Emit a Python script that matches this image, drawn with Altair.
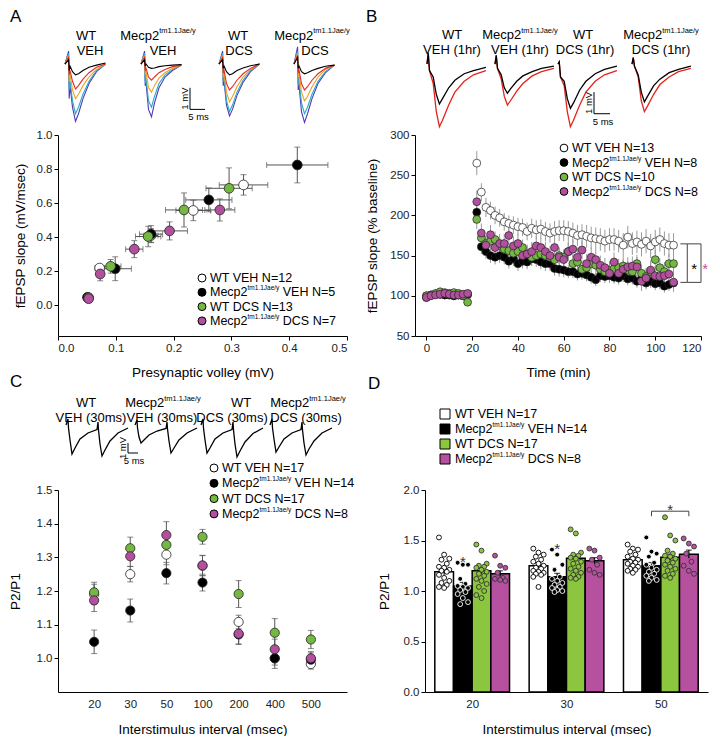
import altair as alt
import pandas as pd

FONT = "Liberation Sans"
MEC = "Mecp2^tm1.1Jae/y^"          # text between ^ ^ is drawn as superscript
ERR = "#555555"
GROUPS = ["WT VEH", "Mecp2 VEH", "WT DCS", "Mecp2 DCS"]
FILLS = ["#ffffff", "#000000", "#74b843", "#b3509e"]
FILLS_D = ["#ffffff", "#000000", "#8cc63f", "#b6519f"]

# ---------------- Panel A data ----------------
a_legend = ["WT VEH N=12", MEC + " VEH N=5", "WT DCS N=13", MEC + " DCS N=7"]
a_x = [[0.052, 0.072, 0.161, 0.234, 0.321],
       [0.051, 0.099, 0.161, 0.261, 0.414],
       [0.053, 0.091, 0.156, 0.218, 0.296],
       [0.053, 0.073, 0.132, 0.193, 0.280]]
a_y = [[0.045, 0.219, 0.410, 0.557, 0.707],
       [0.047, 0.215, 0.418, 0.619, 0.824],
       [0.045, 0.229, 0.404, 0.560, 0.687],
       [0.039, 0.184, 0.330, 0.437, 0.560]]
a_xerr = [[0.005, 0.008, 0.012, 0.030, 0.042],
          [0.004, 0.028, 0.020, 0.040, 0.053],
          [0.004, 0.018, 0.022, 0.032, 0.040],
          [0.004, 0.006, 0.015, 0.031, 0.026]]
a_yerr = [[0.010, 0.020, 0.040, 0.060, 0.060],
          [0.010, 0.070, 0.050, 0.070, 0.105],
          [0.010, 0.040, 0.060, 0.100, 0.120],
          [0.010, 0.040, 0.050, 0.053, 0.065]]

# ---------------- Panel B data ----------------
b_legend = ["WT VEH N=13", MEC + " VEH N=8", "WT DCS N=10", MEC + " DCS N=8"]
b_time = [0, 2, 4, 6, 8, 10, 12, 14, 16, 18,
          22, 24, 26, 28, 30, 32, 34, 36, 38, 40,
          42, 44, 46, 48, 50, 52, 54, 56, 58, 60,
          62, 64, 66, 68, 70, 72, 74, 76, 78, 80,
          82, 84, 86, 88, 90, 92, 94, 96, 98, 100,
          102, 104, 106, 108]
b_wt_veh = [100, 101, 102, 102, 101, 101, 100, 101, 100, 101,
            265, 229, 210, 206, 200, 197, 192, 190, 188, 186,
            185, 180, 184, 182, 183, 180, 178, 180, 181, 181,
            180, 178, 175, 176, 174, 172, 171, 170, 168, 170,
            170, 168, 163, 173, 165, 167, 164, 168, 162, 167,
            170, 165, 163, 163]
b_mec_veh = [98, 101, 102, 102, 101, 101, 100, 101, 100, 102,
             204, 161, 155, 150, 148, 150, 148, 143, 146, 140,
             143, 142, 146, 145, 142, 140, 140, 134, 133, 132,
             130, 130, 127, 128, 126, 123, 120, 125, 124, 125,
             123, 122, 125, 121, 122, 118, 121, 116, 118, 115,
             116, 112, 114, 116]
b_wt_dcs = [100, 101, 103, 105, 104, 103, 104, 103, 100, 92,
            195, 172, 165, 168, 170, 162, 158, 156, 153, 155,
            160, 152, 148, 150, 152, 150, 148, 145, 150, 148,
            155, 140, 142, 133, 135, 140, 138, 133, 130, 132,
            134, 135, 137, 132, 130, 140, 128, 124, 130, 145,
            135, 130, 140, 140]
b_mec_dcs = [98, 100, 101, 102, 103, 102, 101, 101, 102, 103,
             217, 178, 163, 176, 160, 165, 165, 175, 162, 165,
             150, 152, 155, 162, 160, 155, 150, 160, 148, 145,
             155, 158, 148, 157, 140, 148, 145, 138, 135, 128,
             142, 128, 133, 136, 137, 136, 118, 122, 132, 125,
             124, 125, 127, 117]
b_err_wt_veh = [3, 3, 3, 3, 3, 3, 3, 3, 3, 3,
                15, 11, 12, 11, 11, 11, 11, 10, 11, 11,
                11, 11, 12, 12, 12, 12, 12, 13, 13, 13,
                13, 13, 13, 13, 14, 14, 14, 14, 14, 14,
                14, 14, 15, 14, 14, 14, 15, 15, 15, 15,
                15, 15, 15, 15]
b_err_mec_veh = [3, 3, 3, 3, 3, 3, 3, 3, 3, 3,
                 12, 9, 9, 9, 9, 9, 9, 9, 9, 9,
                 9, 9, 9, 9, 9, 9, 9, 9, 9, 9,
                 8, 8, 8, 8, 8, 8, 8, 8, 8, 8,
                 8, 8, 8, 8, 8, 8, 8, 8, 8, 8,
                 8, 8, 8, 8]
b_err_wt_dcs = [3, 3, 3, 3, 3, 3, 3, 3, 3, 3,
                12, 10, 10, 10, 10, 10, 10, 10, 10, 10,
                10, 10, 10, 10, 10, 10, 10, 10, 10, 10,
                11, 11, 11, 11, 11, 11, 11, 11, 11, 11,
                11, 11, 11, 11, 11, 11, 11, 11, 12, 12,
                12, 12, 12, 12]
b_err_mec_dcs = [3, 3, 3, 3, 3, 3, 3, 3, 3, 3,
                 14, 12, 12, 12, 12, 12, 12, 12, 12, 12,
                 12, 12, 12, 12, 12, 12, 12, 12, 12, 12,
                 12, 12, 12, 12, 12, 12, 12, 12, 12, 12,
                 12, 12, 12, 12, 12, 12, 12, 12, 12, 12,
                 12, 12, 12, 12]

# ---------------- Panel C data ----------------
c_legend = ["WT VEH N=17", MEC + " VEH N=14", "WT DCS N=17", MEC + " DCS N=8"]
c_intervals = ["20", "30", "50", "100", "200", "400", "500"]
c_vals = [[1.190, 1.250, 1.308, 1.275, 1.108, 1.000, 0.983],
          [1.049, 1.142, 1.253, 1.225, 1.071, 1.000, 0.996],
          [1.196, 1.327, 1.337, 1.361, 1.191, 1.076, 1.056],
          [1.172, 1.303, 1.366, 1.276, 1.073, 1.027, 1.000]]
c_errs = [[0.030, 0.023, 0.030, 0.030, 0.020, 0.020, 0.015],
          [0.035, 0.034, 0.032, 0.025, 0.030, 0.030, 0.020],
          [0.030, 0.033, 0.030, 0.022, 0.040, 0.042, 0.027],
          [0.033, 0.030, 0.040, 0.030, 0.030, 0.030, 0.020]]

# ---------------- Panel D data ----------------
d_legend = ["WT VEH N=17", MEC + " VEH N=14", "WT DCS N=17", MEC + " DCS N=8"]
d_intervals = ["20", "30", "50"]
d_means = [[1.19, 1.25, 1.31],
           [1.05, 1.14, 1.25],
           [1.20, 1.325, 1.335],
           [1.17, 1.30, 1.365]]
d_sems = [[0.03, 0.025, 0.02],
          [0.035, 0.035, 0.032],
          [0.03, 0.03, 0.03],
          [0.03, 0.03, 0.04]]
d_pts = [
    [[1.53, 1.36, 1.32, 1.31, 1.27, 1.24, 1.23, 1.21, 1.20, 1.19, 1.16, 1.13, 1.10, 1.08, 1.06, 1.04, 1.03],
     [1.42, 1.38, 1.36, 1.34, 1.31, 1.29, 1.27, 1.25, 1.23, 1.22, 1.20, 1.19, 1.18, 1.17, 1.16, 1.14, 1.04],
     [1.46, 1.42, 1.41, 1.39, 1.36, 1.34, 1.32, 1.31, 1.29, 1.28, 1.27, 1.25, 1.24, 1.22, 1.21, 1.20, 1.18]],
    [[1.28, 1.26, 1.26, 1.12, 1.07, 1.05, 1.04, 1.03, 1.01, 0.99, 0.97, 0.93, 0.89, 0.87],
     [1.41, 1.36, 1.26, 1.21, 1.14, 1.12, 1.10, 1.08, 1.06, 1.04, 1.03, 1.01, 1.00, 0.99],
     [1.53, 1.39, 1.37, 1.34, 1.28, 1.26, 1.23, 1.21, 1.19, 1.17, 1.15, 1.13, 1.11, 1.10]],
    [[1.46, 1.40, 1.27, 1.25, 1.24, 1.23, 1.21, 1.19, 1.17, 1.15, 1.12, 1.10, 1.07, 1.04, 1.00, 0.96, 0.93],
     [1.61, 1.57, 1.38, 1.36, 1.35, 1.33, 1.32, 1.29, 1.27, 1.24, 1.22, 1.20, 1.18, 1.16, 1.14, 1.13, 1.12],
     [1.73, 1.55, 1.50, 1.40, 1.37, 1.35, 1.34, 1.32, 1.30, 1.28, 1.26, 1.24, 1.22, 1.20, 1.17, 1.15, 1.13]],
    [[1.35, 1.25, 1.23, 1.18, 1.13, 1.12, 1.11, 1.10],
     [1.42, 1.40, 1.33, 1.31, 1.26, 1.21, 1.18, 1.16],
     [1.52, 1.47, 1.44, 1.37, 1.29, 1.25, 1.20, 1.17]],
]

# ---------------- Example traces (mV) ----------------
ta_time = [0, 1.2, 1.4, 1.7, 2.5, 3.5, 4.5, 6, 8, 10.5, 13.5]
ta_colors = ["#4a3db5", "#2aa9c9", "#f0a020", "#e22b25", "#000000"]
ta_wt_veh = [[0, 0.6, -1.6, -1.0, -2.0, -2.65, -2.3, -1.6, -0.9, -0.35, 0],
             [0, 0.5, -1.2, -0.8, -1.7, -2.3, -2.0, -1.4, -0.8, -0.3, 0],
             [0, 0.4, -0.8, -0.5, -1.2, -1.6, -1.4, -1.0, -0.6, -0.25, 0],
             [0, 0.3, -0.5, -0.3, -0.8, -1.15, -1.0, -0.7, -0.4, -0.15, 0],
             [0, 0.2, -0.3, -0.1, -0.35, -0.5, -0.45, -0.3, -0.15, -0.05, 0.05]]
ta_mec_veh = [[0, 0.6, -1.0, -0.9, -2.1, -2.45, -1.8, -1.1, -0.6, -0.3, -0.05],
              [0, 0.5, -0.8, -0.7, -1.7, -2.0, -1.5, -0.9, -0.5, -0.25, -0.05],
              [0, 0.4, -0.5, -0.4, -1.1, -1.3, -1.0, -0.65, -0.4, -0.2, -0.05],
              [0, 0.3, -0.3, -0.2, -0.6, -0.75, -0.6, -0.4, -0.25, -0.12, -0.05],
              [0, 0.2, -0.1, 0, -0.15, -0.2, -0.18, -0.12, -0.08, -0.05, -0.02]]
ta_wt_dcs = [[0, 0.6, -1.0, -0.8, -1.9, -2.4, -2.1, -1.45, -0.85, -0.35, 0],
             [0, 0.5, -0.8, -0.7, -1.7, -2.2, -1.9, -1.3, -0.75, -0.3, 0],
             [0, 0.4, -0.6, -0.5, -1.3, -1.75, -1.5, -1.05, -0.6, -0.25, 0],
             [0, 0.3, -0.4, -0.3, -0.9, -1.2, -1.05, -0.75, -0.45, -0.2, 0],
             [0, 0.2, -0.2, -0.1, -0.35, -0.5, -0.45, -0.3, -0.18, -0.08, 0]]
ta_mec_dcs = [[0, 0.8, -1.2, -1.0, -2.2, -2.7, -2.3, -1.6, -0.9, -0.4, -0.05],
              [0, 0.6, -0.9, -0.8, -1.8, -2.3, -2.0, -1.4, -0.8, -0.35, -0.05],
              [0, 0.5, -0.6, -0.5, -1.3, -1.7, -1.5, -1.05, -0.6, -0.25, -0.05],
              [0, 0.4, -0.4, -0.3, -0.9, -1.2, -1.05, -0.75, -0.45, -0.2, -0.05],
              [0, 0.3, -0.2, -0.1, -0.35, -0.45, -0.4, -0.3, -0.2, -0.1, -0.05]]

tb_time = [0, 0.4, 0.8, 2, 3, 4, 5, 7, 9, 12, 15, 19]
tb_colors = ["#e5231b", "#000000"]
tb_wt_veh = [[0, 0.5, -0.3, -0.9, -2.2, -2.9, -2.6, -1.9, -1.3, -0.8, -0.5, -0.3],
             [0, 0.5, -0.3, -0.6, -1.4, -1.85, -1.6, -1.1, -0.75, -0.45, -0.3, -0.15]]
tb_mec_veh = [[0, 0.4, -0.2, -0.7, -1.5, -1.9, -1.7, -1.25, -0.9, -0.55, -0.35, -0.2],
              [0, 0.4, -0.2, -0.5, -1.1, -1.35, -1.15, -0.8, -0.55, -0.35, -0.2, -0.1]]
tb_wt_dcs = [[0, 0.1, -0.6, -1.0, -2.2, -2.9, -2.6, -1.9, -1.3, -0.8, -0.5, -0.3],
             [0, 0.1, -0.6, -0.8, -1.6, -2.05, -1.8, -1.2, -0.8, -0.45, -0.25, -0.1]]
tb_mec_dcs = [[0, 0.3, -0.1, -0.6, -1.7, -2.2, -1.95, -1.4, -0.95, -0.6, -0.35, -0.2],
              [0, 0.3, -0.1, -0.5, -1.3, -1.75, -1.5, -1.0, -0.7, -0.4, -0.25, -0.1]]

tc_time = [-2, 0, 0.5, 2, 4, 7, 12, 20, 29, 30, 30.5, 32, 34, 37, 42, 50, 60]
tc_wt_veh = [0, 0.6, -0.3, -1.5, -2.9, -2.3, -1.4, -0.8, -0.45, 0.3, -0.5, -1.9, -3.1, -2.5, -1.6, -0.8, -0.3]
tc_mec_veh = [0, 0.5, -0.3, -1.2, -1.8, -1.5, -1.0, -0.6, -0.35, 0.3, -0.4, -1.6, -2.8, -2.3, -1.5, -0.8, -0.3]
tc_wt_dcs = [0, 0.6, -0.3, -1.5, -2.8, -2.3, -1.4, -0.8, -0.45, 0.3, -0.5, -1.9, -3.2, -2.6, -1.7, -0.85, -0.3]
tc_mec_dcs = [0, 0.6, -0.3, -1.4, -2.7, -2.2, -1.4, -0.8, -0.45, 0.3, -0.5, -1.8, -3.0, -2.4, -1.6, -0.8, -0.3]

# ================= text helpers (Liberation Sans advance widths, per 1000 em) =================
ADV = {' ': 278, '(': 333, ')': 333, '.': 278, '/': 278, '=': 584, 'C': 722, 'D': 722, 'E': 667,
       'H': 722, 'J': 500, 'M': 833, 'N': 722, 'S': 667, 'V': 667, 'W': 944, 'T': 611,
       'a': 556, 'c': 500, 'e': 556, 'h': 556, 'm': 833, 'p': 556, 'r': 333, 's': 500,
       't': 278, 'y': 500}


def tw(s, size):
    return sum(ADV.get(ch, 556) for ch in s) / 1000.0 * size


def pieces(label, fs, sfs):
    """split 'Mecp2^tm1.1Jae/y^ VEH' into (kind, text, x-offset) runs; returns runs, width"""
    runs, x = [], 0.0
    for i, part in enumerate(label.split("^")):
        if not part:
            continue
        size = sfs if i % 2 == 1 else fs
        lead = len(part) - len(part.lstrip(" "))
        x += tw(" " * lead, size)
        part = part.lstrip(" ")
        runs.append(("s" if i % 2 == 1 else "n", part, x))
        x += tw(part, size)
    return runs, x


def text_runs(rows, xf, yf, fs, sfs, sdy, X, Y):
    n = pd.DataFrame([r for r in rows if r["kind"] == "n"])
    s = pd.DataFrame([r for r in rows if r["kind"] == "s"])
    out = [alt.Chart(n).mark_text(fontSize=fs, align="left", baseline="middle", color="black", font=FONT)
           .encode(X(xf), Y(yf), text="t:N")]
    if len(s):
        out.append(alt.Chart(s).mark_text(fontSize=sfs, align="left", baseline="middle", dy=sdy,
                                          color="black", font=FONT).encode(X(xf), Y(yf), text="t:N"))
    return out


def PX(f):
    return alt.X(f, scale=None, axis=None)


def PY(f):
    return alt.Y(f, scale=None, axis=None)


def legend_layers(texts, fills, x0, y0, dy, shape, size, gap=8, fs=12.5, sfs=6.5):
    syms, rows = [], []
    for i, (g, lab) in enumerate(zip(GROUPS, texts)):
        y = y0 + i * dy
        syms.append(dict(g=g, px=x0, py=y))
        runs, _ = pieces(lab, fs, sfs)
        for kind, t, off in runs:
            rows.append(dict(kind=kind, t=t, px=x0 + gap + off, py=y))
    sym = alt.Chart(pd.DataFrame(syms)).mark_point(
        filled=True, shape=shape, size=size, stroke="black", strokeWidth=1, opacity=1).encode(
        PX("px:Q"), PY("py:Q"),
        fill=alt.Fill("g:N", scale=alt.Scale(domain=GROUPS, range=fills), legend=None))
    return [sym] + text_runs(rows, "px:Q", "py:Q", fs, sfs, -4, PX, PY)


def letter_layer(txt, x, y):
    return alt.Chart(pd.DataFrame([dict(t=txt, px=x, py=y)])).mark_text(
        fontSize=17, align="left", baseline="top", color="black", font=FONT).encode(
        PX("px:Q"), PY("py:Q"), text="t:N")


def trace_df(times, offsets, groups, colors, pxms):
    rows = []
    for gi, traces in enumerate(groups):
        for ci, vals in enumerate(traces):
            for k, (t, v) in enumerate(zip(times, vals)):
                rows.append(dict(trace=f"{gi}-{ci}", col=colors[ci],
                                 px=offsets[gi] + (t - times[0]) * pxms, mv=v, k=k))
    return pd.DataFrame(rows)


def trace_layers(tdf, labels, bar, W, ydom, yrange, lw=1.1):
    """Example recordings drawn above the plot area on their own (mV) scales."""
    xs = alt.Scale(domain=[0, W], range=[0, W], nice=False, zero=False)
    ys = alt.Scale(domain=ydom, range=yrange, nice=False, zero=False)

    def X(f):
        return alt.X(f, scale=xs, axis=None)

    def Y(f):
        return alt.Y(f, scale=ys, axis=None)

    layers = [alt.Chart(tdf).mark_line(strokeWidth=lw, clip=False).encode(
        X("px:Q"), Y("mv:Q"), color=alt.Color("col:N", scale=None, legend=None),
        detail="trace:N", order="k:Q")]
    rows = []
    for lab, cx, mv in labels:
        runs, width = pieces(lab, 13, 7.5)
        for kind, t, off in runs:
            rows.append(dict(kind=kind, t=t, px=cx - width / 2 + off, mv=mv))
    layers += text_runs(rows, "px:Q", "mv:Q", 13, 7.5, -4.5, X, Y)
    bx, by, bw, bh = bar
    sdf = pd.DataFrame([dict(px=bx, px2=bx, mv=by, mv2=by - bh),
                        dict(px=bx, px2=bx + bw, mv=by - bh, mv2=by - bh)])
    layers.append(alt.Chart(sdf).mark_rule(color="black", strokeWidth=1).encode(
        X("px:Q"), x2="px2:Q", y=Y("mv:Q"), y2="mv2:Q"))
    t1 = pd.DataFrame([dict(px=bx - 5, mv=by - bh / 2, text="1 mV")])
    t2 = pd.DataFrame([dict(px=bx + bw / 2 + 1, mv=by - bh, text="5 ms")])
    layers.append(alt.Chart(t1).mark_text(fontSize=9.5, angle=270, font=FONT).encode(
        X("px:Q"), Y("mv:Q"), text="text:N"))
    layers.append(alt.Chart(t2).mark_text(fontSize=9.5, font=FONT, baseline="top", dy=3).encode(
        X("px:Q"), Y("mv:Q"), text="text:N"))
    return alt.layer(*layers)


axis_common = dict(labelFontSize=11.5, titleFontSize=13.5, titleFontWeight="normal",
                   labelColor="#222222", titleColor="black", domainColor="black",
                   tickColor="black", grid=False, labelFont=FONT, titleFont=FONT)


def fill_enc(fills):
    return alt.Fill("g:N", scale=alt.Scale(domain=GROUPS, range=fills), legend=None)


W_A, W_B, W_C = 289, 286, 289
H1, H2 = 201, 202
TOP = -126

# ================= Panel A =================
rows = []
for gi, g in enumerate(GROUPS):
    for x, y, xe, ye in zip(a_x[gi], a_y[gi], a_xerr[gi], a_yerr[gi]):
        rows.append(dict(g=g, x=x, y=y, xlo=x - xe, xhi=x + xe, ylo=y - ye, yhi=y + ye))
df_a = pd.DataFrame(rows)
xa = alt.Scale(domain=[0, 0.5], nice=False, zero=False)
ya = alt.Scale(domain=[-0.18, 1.0], nice=False, zero=False)
ax_xa = alt.Axis(values=[0, 0.1, 0.2, 0.3, 0.4, 0.5], format=".1f", title="Presynaptic volley (mV)",
                 titlePadding=12, tickSize=4, **axis_common)
ax_ya = alt.Axis(values=[0, 0.2, 0.4, 0.6, 0.8, 1.0], format=".1f", title="fEPSP slope (mV/msec)",
                 titlePadding=9, tickSize=4, **axis_common)


def XA(f):
    return alt.X(f, scale=xa, axis=ax_xa)


def YA(f):
    return alt.Y(f, scale=ya, axis=ax_ya)


ba = alt.Chart(df_a)
main_a = alt.layer(
    ba.mark_rule(color=ERR, strokeWidth=1).encode(XA("xlo:Q"), x2="xhi:Q", y=YA("y:Q")),
    ba.mark_rule(color=ERR, strokeWidth=1).encode(XA("x:Q"), y=YA("ylo:Q"), y2="yhi:Q"),
    ba.mark_tick(color=ERR, orient="horizontal", size=6, thickness=1).encode(XA("x:Q"), YA("ylo:Q")),
    ba.mark_tick(color=ERR, orient="horizontal", size=6, thickness=1).encode(XA("x:Q"), YA("yhi:Q")),
    ba.mark_tick(color=ERR, orient="vertical", size=6, thickness=1).encode(XA("xlo:Q"), YA("y:Q")),
    ba.mark_tick(color=ERR, orient="vertical", size=6, thickness=1).encode(XA("xhi:Q"), YA("y:Q")),
    ba.mark_point(filled=True, size=95, stroke="#222222", strokeWidth=0.8, opacity=1).encode(
        XA("x:Q"), YA("y:Q"), fill=fill_enc(FILLS)),
)
tr_a = trace_layers(
    trace_df(ta_time, [7, 83, 161, 236], [ta_wt_veh, ta_mec_veh, ta_wt_dcs, ta_mec_dcs], ta_colors, 3.0),
    [("WT", 28, 1.30), ("VEH", 32, 0.60), (MEC, 100, 1.30), ("VEH", 105, 0.60),
     ("WT", 180, 1.30), ("DCS", 181, 0.60), (MEC, 254, 1.30), ("DCS", 257, 0.60)],
    (132, -1.1, 15, 1.0), W_A, [-3.1, 1.9], [-4, -112])
leg_a = alt.layer(*legend_layers(a_legend, FILLS, 144, 143, 14.3, "circle", 64),
                  letter_layer("A", -48, TOP))
panel_a = alt.layer(main_a, tr_a, leg_a).resolve_scale(x="independent", y="independent").properties(
    width=W_A, height=H1)

# ================= Panel B =================
rows = []
for g, vals, errs in zip(GROUPS, [b_wt_veh, b_mec_veh, b_wt_dcs, b_mec_dcs],
                         [b_err_wt_veh, b_err_mec_veh, b_err_wt_dcs, b_err_mec_dcs]):
    for t, v, e in zip(b_time, vals, errs):
        rows.append(dict(g=g, t=t, v=v, lo=v - e, hi=v + e))
df_b = pd.DataFrame(rows)
xb = alt.Scale(domain=[-5, 120], nice=False, zero=False)
yb = alt.Scale(domain=[50, 300], nice=False, zero=False)
ax_xb = alt.Axis(values=[0, 20, 40, 60, 80, 100, 120], title="Time (min)", titlePadding=12, tickSize=4,
                 **axis_common)
ax_yb = alt.Axis(values=[50, 100, 150, 200, 250, 300], title="fEPSP slope (% baseline)", titlePadding=10,
                 tickSize=4, **axis_common)


def XB(f):
    return alt.X(f, scale=xb, axis=ax_xb)


def YB(f):
    return alt.Y(f, scale=yb, axis=ax_yb)


bb = alt.Chart(df_b)
sig_b = pd.DataFrame([
    dict(x=111, x2=114, y=164.6, y2=164.6), dict(x=111, x2=114, y=116.7, y2=116.7),
    dict(x=114, x2=114, y=116.7, y2=164.6),
    dict(x=114, x2=120, y=164.6, y2=164.6), dict(x=114, x2=120, y=116.7, y2=116.7),
    dict(x=120, x2=120, y=116.7, y2=164.6)])
star_b = pd.DataFrame([dict(x=117, y=138, s="*", c="black"), dict(x=121.8, y=138, s="*", c="#c0509f")])
main_b = alt.layer(
    bb.mark_rule(color="#9a9a9a", strokeWidth=1).encode(XB("t:Q"), y=YB("lo:Q"), y2="hi:Q"),
    bb.mark_point(filled=True, size=62, stroke="#222222", strokeWidth=0.7, opacity=1).encode(
        XB("t:Q"), YB("v:Q"), fill=fill_enc(FILLS)),
    alt.Chart(sig_b).mark_rule(color="#444444", strokeWidth=1).encode(XB("x:Q"), x2="x2:Q", y=YB("y:Q"), y2="y2:Q"),
    alt.Chart(star_b).mark_text(fontSize=15, font=FONT, dy=4).encode(
        XB("x:Q"), YB("y:Q"), text="s:N", color=alt.Color("c:N", scale=None)),
)
tr_b = trace_layers(
    trace_df(tb_time, [12, 80, 143, 217], [tb_wt_veh, tb_mec_veh, tb_wt_dcs, tb_mec_dcs], tb_colors, 3.1),
    [("WT", 37, 1.34), ("VEH (1hr)", 37, 0.65), (MEC, 105, 1.34), ("VEH (1hr)", 105, 0.65),
     ("WT", 168, 1.34), ("DCS (1hr)", 170, 0.65), (MEC, 246, 1.34), ("DCS (1hr)", 246, 0.65)],
    (179, -1.3, 16, 1.0), W_B, [-3.1, 1.9], [-4, -112], lw=1.3)
leg_b = alt.layer(*legend_layers(b_legend, FILLS, 149, 13, 14.5, "circle", 60),
                  letter_layer("B", -49, TOP))
panel_b = alt.layer(main_b, tr_b, leg_b).resolve_scale(x="independent", y="independent").properties(
    width=W_B, height=H1)

# ================= Panel C =================
rows = []
for gi, g in enumerate(GROUPS):
    for iv, v, e in zip(c_intervals, c_vals[gi], c_errs[gi]):
        rows.append(dict(g=g, iv=iv, v=v, lo=v - e, hi=v + e))
df_c = pd.DataFrame(rows)
xc = alt.Scale(type="point", domain=c_intervals, padding=1)
yc = alt.Scale(domain=[0.9, 1.5], nice=False, zero=False)
ax_xc = alt.Axis(title="Interstimulus interval (msec)", ticks=False, labelPadding=6, labelAngle=0,
                 titlePadding=13, **axis_common)
ax_yc = alt.Axis(values=[1.0, 1.1, 1.2, 1.3, 1.4, 1.5], format=".1f", title="P2/P1", titlePadding=14,
                 tickSize=4, **axis_common)


def XC(f):
    return alt.X(f, scale=xc, axis=ax_xc, sort=c_intervals)


def YC(f):
    return alt.Y(f, scale=yc, axis=ax_yc)


bc = alt.Chart(df_c)
main_c = alt.layer(
    bc.mark_rule(color=ERR, strokeWidth=1).encode(XC("iv:N"), y=YC("lo:Q"), y2="hi:Q"),
    bc.mark_tick(color=ERR, orient="horizontal", size=6, thickness=1).encode(XC("iv:N"), YC("lo:Q")),
    bc.mark_tick(color=ERR, orient="horizontal", size=6, thickness=1).encode(XC("iv:N"), YC("hi:Q")),
    bc.mark_point(filled=True, size=85, stroke="#222222", strokeWidth=0.8, opacity=1).encode(
        XC("iv:N"), YC("v:Q"), fill=fill_enc(FILLS)),
)
tr_c = trace_layers(
    trace_df(tc_time, [8, 77, 143, 212], [[tc_wt_veh], [tc_mec_veh], [tc_wt_dcs], [tc_mec_dcs]], ["#000000"], 1.0),
    [("WT", 28, 2.2), ("VEH (30ms)", 33, 0.7), (MEC, 105, 2.2), ("VEH (30ms)", 104, 0.7),
     ("WT", 183, 2.2), ("DCS (30ms)", 174, 0.7), (MEC, 250, 2.2), ("DCS (30ms)", 248, 0.7)],
    (70, -1.8, 10, 1.0), W_C, [-4.0, 3.2], [-25, -97], lw=1.3)
leg_c = alt.layer(*legend_layers(c_legend, FILLS, 156, -22, 15.3, "circle", 64),
                  letter_layer("C", -48, -116))
panel_c = alt.layer(main_c, tr_c, leg_c).resolve_scale(x="independent", y="independent").properties(
    width=W_C, height=H2)

# ================= Panel D =================
D_OFF, D_W = 10, 293          # plot area starts D_OFF px inside its grid cell
BW = 0.198
JIT = [-0.055, 0.0, 0.055, -0.028, 0.028]
bars, pts = [], []
for gi, g in enumerate(GROUPS):
    for ii, iv in enumerate(d_intervals):
        c = ii + 0.5 + (gi - 1.5) * BW
        m, s = d_means[gi][ii], d_sems[gi][ii]
        bars.append(dict(g=g, xc=c, xlo=c - BW / 2, xhi=c + BW / 2, m=m, lo=m - s, hi=m + s, y0=0))
        for k, v in enumerate(d_pts[gi][ii]):
            pts.append(dict(g=g, x=c + JIT[k % 5], v=v))
df_dbar = pd.DataFrame(bars)
df_dpt = pd.DataFrame(pts)
xd = alt.Scale(domain=[0, 3], range=[D_OFF, D_W], nice=False, zero=False)
yd = alt.Scale(domain=[0, 2], nice=False, zero=False)
ax_xd = alt.Axis(values=[0.5, 1.5, 2.5], labelExpr="['20','30','50'][floor(datum.value)]",
                 title="Interstimulus interval (msec)", ticks=False, labelPadding=6, titlePadding=13,
                 **axis_common)
ax_yd = alt.Axis(values=[0, 0.5, 1.0, 1.5, 2.0], format=".1f", title="P2/P1", titlePadding=12,
                 tickSize=4, offset=-D_OFF, **axis_common)


def XD(f):
    return alt.X(f, scale=xd, axis=ax_xd)


def YD(f):
    return alt.Y(f, scale=yd, axis=ax_yd)


bk = 0.5 - 0.5 * BW
sig_d = pd.DataFrame([
    dict(x=2 + bk, x2=2 + bk + 2 * BW, y=1.79, y2=1.79),
    dict(x=2 + bk, x2=2 + bk, y=1.74, y2=1.79),
    dict(x=2 + bk + 2 * BW, x2=2 + bk + 2 * BW, y=1.74, y2=1.79)])
star_d = pd.DataFrame([dict(x=bk, y=1.33, s="*"), dict(x=1 + bk, y=1.46, s="*"),
                       dict(x=2 + bk + BW, y=1.84, s="*")])
bd = alt.Chart(df_dbar)
main_d = alt.layer(
    bd.mark_bar(stroke="black", strokeWidth=1.5, opacity=1).encode(
        XD("xlo:Q"), x2="xhi:Q", y=YD("m:Q"), y2="y0:Q", fill=fill_enc(FILLS_D)),
    bd.mark_rule(color="black", strokeWidth=1.2).encode(XD("xc:Q"), y=YD("lo:Q"), y2="hi:Q"),
    bd.mark_tick(color="black", orient="horizontal", size=6, thickness=1.2).encode(XD("xc:Q"), YD("hi:Q")),
    alt.Chart(df_dpt).mark_point(filled=True, size=24, strokeWidth=0.9, opacity=1).encode(
        XD("x:Q"), YD("v:Q"), fill=fill_enc(FILLS_D),
        stroke=alt.Stroke("g:N", scale=alt.Scale(domain=GROUPS,
                                                 range=["black", "white", "#333333", "#333333"]),
                          legend=None)),
    alt.Chart(sig_d).mark_rule(color="#444444", strokeWidth=1).encode(XD("x:Q"), x2="x2:Q", y=YD("y:Q"), y2="y2:Q"),
    alt.Chart(star_d).mark_text(fontSize=15, font=FONT, dy=4, color="#333333").encode(
        XD("x:Q"), YD("y:Q"), text="s:N"),
)
leg_d = alt.layer(*legend_layers(d_legend, FILLS_D, D_OFF + 20, -76, 15, "square", 100, gap=10),
                  letter_layer("D", D_OFF - 57, -114))
panel_d = alt.layer(main_d, leg_d).resolve_scale(x="independent", y="independent").properties(
    width=D_W, height=H2)

# ================= Layout =================
chart = alt.concat(panel_a, panel_b, panel_c, panel_d, columns=2, bounds="flush",
                   spacing={"row": 154, "column": 68}).resolve_scale(
    fill="independent", stroke="independent").properties(
    padding={"left": 0, "top": 0, "right": 0, "bottom": 0}
).configure(font=FONT).configure_view(stroke=None)

chart.save("out.html", embed_options={"renderer": "svg", "actions": False})
